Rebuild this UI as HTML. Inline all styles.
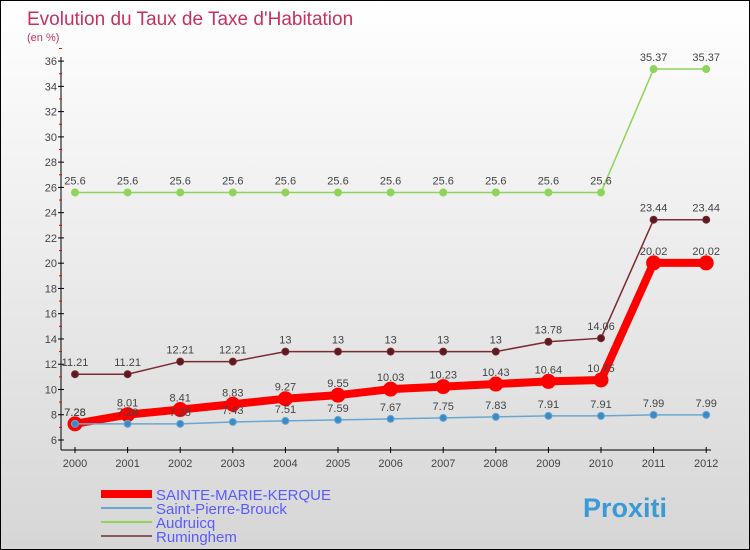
<!DOCTYPE html>
<html><head><meta charset="utf-8"><style>
body{margin:0}
#c{width:748px;height:548px;border:1px solid #000;background:linear-gradient(#fff,#d6d6d6);position:relative;font-family:"Liberation Sans",sans-serif}
</style></head><body>
<div id="c">
<svg id="s" width="748" height="548" style="position:absolute;left:0;top:0" font-family="Liberation Sans, sans-serif">
<text x="26" y="24" font-size="19" fill="#c8305e">Evolution du Taux de Taxe d'Habitation</text>
<text x="26" y="40" font-size="11" fill="#c8305e">(en %)</text>
</svg>
</div>
<script>
const years=[2000,2001,2002,2003,2004,2005,2006,2007,2008,2009,2010,2011,2012];
const sainteMarie=[7.28,8.01,8.41,8.83,9.27,9.55,10.03,10.23,10.43,10.64,10.75,20.02,20.02];
const saintPierre=[7.28,7.28,7.28,7.43,7.51,7.59,7.67,7.75,7.83,7.91,7.91,7.99,7.99];
const audruicq=[25.6,25.6,25.6,25.6,25.6,25.6,25.6,25.6,25.6,25.6,25.6,35.37,35.37];
const ruminghem=[11.21,11.21,12.21,12.21,13,13,13,13,13,13.78,14.06,23.44,23.44];
const yTicks=[6,8,10,12,14,16,18,20,22,24,26,28,30,32,34,36];
const s=document.getElementById('s');const NS='http://www.w3.org/2000/svg';
const X=i=>74+i*52.6, Y=v=>439-(v-6)*12.63;
function el(t,a,name,p){const e=document.createElementNS(NS,t);for(const k in a)e.setAttribute(k,a[k]);


(p||s).appendChild(e);return e;}
el('line',{x1:60,y1:56,x2:60,y2:449,stroke:'#000'},'y-axis');
el('line',{x1:60,y1:449,x2:710,y2:449,stroke:'#000'},'x-axis');
yTicks.forEach(v=>{el('line',{x1:57,y1:Y(v),x2:63,y2:Y(v),stroke:'#000'},'y-tick');
el('line',{x1:58,y1:Y(v+1),x2:61,y2:Y(v+1),stroke:'#e00'},'y-minor-tick');
const t=el('text',{x:56,y:Y(v)+4,'font-size':11,fill:'#444','text-anchor':'end'},'y-tick-label');t.textContent=v;});
years.forEach((y,i)=>{el('line',{x1:X(i),y1:446,x2:X(i),y2:452,stroke:'#000'},'x-tick');
const t=el('text',{x:X(i),y:466,'font-size':11,fill:'#444','text-anchor':'middle'},'x-tick-label');t.textContent=y;});
function series(d,col,w,r,dot,name,lab){
el('polyline',{points:d.map((v,i)=>X(i)+','+Y(v)).join(' '),fill:'none',stroke:col,'stroke-width':w},name+'-line');
d.forEach((v,i)=>{el('circle',{cx:X(i),cy:Y(v),r:r,fill:dot,stroke:col},name+'-point');
const t=el('text',{x:X(i),y:Y(v)-8,'font-size':11,fill:'#444','text-anchor':'middle'},name+'-value');t.textContent=String(v).replace(/\.?0+$/,'');});}
series(audruicq,'#8fd45a',1.5,3.5,'#8fd45a','audruicq');
series(ruminghem,'#7a2a30',1.5,3.5,'#5a1a20','ruminghem');
series(sainteMarie,'#f00',8,7,'#f00','sainte-marie-kerque');
series(saintPierre,'#6aa6d0',1.5,3.5,'#3a8ac8','saint-pierre-brouck');
const leg=[['SAINTE-MARIE-KERQUE','#f00',8],['Saint-Pierre-Brouck','#6aa6d0',2],['Audruicq','#8fd45a',2],['Ruminghem','#8a5a5a',2]];
leg.forEach((l,i)=>{const y=493+i*14;
el('line',{x1:100,y1:y,x2:151,y2:y,stroke:l[1],'stroke-width':l[2]},'legend-swatch');
const t=el('text',{x:155,y:y+6,'font-size':15,fill:'#5a5aff'},'legend-entry');t.textContent=l[0];});
const p=el('text',{x:582,y:516,'font-size':27,'font-weight':'bold',fill:'#3a9ad8'},'proxiti-logo');p.textContent='Proxiti';
</script>
</body></html>
